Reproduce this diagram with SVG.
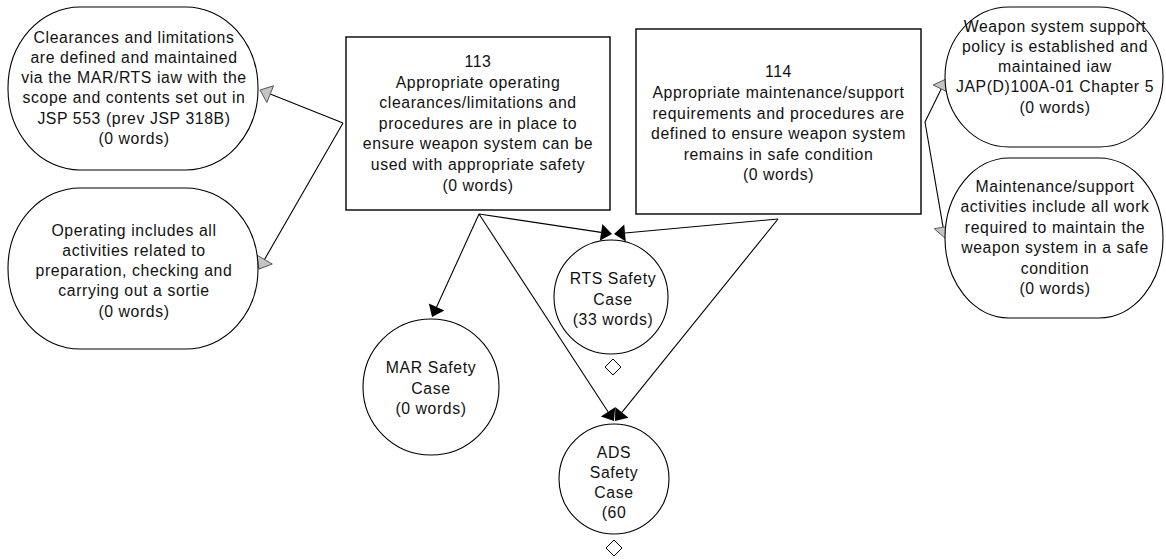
<svg xmlns="http://www.w3.org/2000/svg" width="1166" height="559" viewBox="0 0 1166 559">
  <style>
    .shape { fill: #ffffff; stroke: #000000; stroke-width: 1.1; }
    .box { fill: #ffffff; stroke: #000000; stroke-width: 1.4; }
    .label { font-family: "Liberation Sans", Arial, sans-serif; font-size: 15.8px; letter-spacing: 0.6px; fill: #111111; text-anchor: middle; }
    .link { fill: none; stroke: #000000; stroke-width: 1.1; }
    .diamond { fill: #ffffff; stroke: #000000; stroke-width: 1; }
  </style>
  <defs>
    <marker id="arrowSolid" viewBox="-1 -10 14 20" markerWidth="14" markerHeight="20" refX="0" refY="0" orient="auto" markerUnits="userSpaceOnUse">
      <path d="M11,0 L0,-8.5 L0,8.5 Z" fill="#000000"/>
    </marker>
    <marker id="arrowGrey" viewBox="-1 -10 14 20" markerWidth="14" markerHeight="20" refX="0" refY="0" orient="auto" markerUnits="userSpaceOnUse">
      <path d="M11,0 L0,-9 L0,9 Z" fill="#c4c4c4" stroke="#444444" stroke-width="0.8"/>
    </marker>
  </defs>

  <!-- connectors -->
  <g id="connectors">
    <line class="link" x1="343" y1="123" x2="270.2" y2="94.1" marker-end="url(#arrowGrey)"/>
    <line class="link" x1="343" y1="123" x2="264.5" y2="259.5" marker-end="url(#arrowGrey)"/>
    <line class="link" x1="925" y1="122" x2="941.2" y2="88.9" marker-end="url(#arrowGrey)"/>
    <line class="link" x1="925" y1="122" x2="943.1" y2="227.2" marker-end="url(#arrowGrey)"/>
    <line class="link" x1="479" y1="214" x2="436.6" y2="307" marker-end="url(#arrowSolid)"/>
    <line class="link" x1="479" y1="214" x2="601.1" y2="232.4" marker-end="url(#arrowSolid)"/>
    <line class="link" x1="778" y1="219" x2="625" y2="233" marker-end="url(#arrowSolid)"/>
    <line class="link" x1="479" y1="214" x2="608" y2="411.8" marker-end="url(#arrowSolid)"/>
    <line class="link" x1="778" y1="219" x2="621.9" y2="412.4" marker-end="url(#arrowSolid)"/>
  </g>

  <g id="n-clearances">
    <rect class="shape" x="8" y="7" width="250" height="163" rx="72" ry="81"/>
    <text class="label" x="134" y="42.5">Clearances and limitations</text>
    <text class="label" x="134" y="62.8">are defined and maintained</text>
    <text class="label" x="134" y="83.1">via the MAR/RTS iaw with the</text>
    <text class="label" x="134" y="103.4">scope and contents set out in</text>
    <text class="label" x="134" y="123.7">JSP 553 (prev JSP 318B)</text>
    <text class="label" x="134" y="144">(0 words)</text>
  </g>

  <g id="n-operating">
    <rect class="shape" x="8" y="188" width="250" height="161" rx="72" ry="80"/>
    <text class="label" x="134" y="235.5">Operating includes all</text>
    <text class="label" x="134" y="255.7">activities related to</text>
    <text class="label" x="134" y="276">preparation, checking and</text>
    <text class="label" x="134" y="296.2">carrying out a sortie</text>
    <text class="label" x="134" y="316.5">(0 words)</text>
  </g>

  <g id="n-113">
    <rect class="box" x="346" y="37" width="264" height="173"/>
    <text class="label" x="478" y="67">113</text>
    <text class="label" x="478" y="87.6">Appropriate operating</text>
    <text class="label" x="478" y="108.2">clearances/limitations and</text>
    <text class="label" x="478" y="128.8">procedures are in place to</text>
    <text class="label" x="478" y="149.4">ensure weapon system can be</text>
    <text class="label" x="478" y="170">used with appropriate safety</text>
    <text class="label" x="478" y="190.6">(0 words)</text>
  </g>

  <g id="n-114">
    <rect class="box" x="636" y="29" width="285" height="185"/>
    <text class="label" x="778.5" y="77.3">114</text>
    <text class="label" x="778.5" y="97.9">Appropriate maintenance/support</text>
    <text class="label" x="778.5" y="118.5">requirements and procedures are</text>
    <text class="label" x="778.5" y="139.1">defined to ensure weapon system</text>
    <text class="label" x="778.5" y="159.7">remains in safe condition</text>
    <text class="label" x="778.5" y="180.3">(0 words)</text>
  </g>

  <g id="n-support-policy">
    <rect class="shape" x="945" y="7" width="218" height="140" rx="64" ry="70"/>
    <text class="label" x="1055" y="31.5">Weapon system support</text>
    <text class="label" x="1055" y="51.7">policy is established and</text>
    <text class="label" x="1055" y="72">maintained iaw</text>
    <text class="label" x="1055" y="92.2">JAP(D)100A-01 Chapter 5</text>
    <text class="label" x="1055" y="112.5">(0 words)</text>
  </g>

  <g id="n-maintenance">
    <rect class="shape" x="945" y="158" width="218" height="160" rx="64" ry="80"/>
    <text class="label" x="1055" y="192">Maintenance/support</text>
    <text class="label" x="1055" y="212.4">activities include all work</text>
    <text class="label" x="1055" y="232.8">required to maintain the</text>
    <text class="label" x="1055" y="253.2">weapon system in a safe</text>
    <text class="label" x="1055" y="273.6">condition</text>
    <text class="label" x="1055" y="294">(0 words)</text>
  </g>

  <g id="n-mar">
    <circle class="shape" cx="431" cy="387" r="68"/>
    <text class="label" x="431" y="373">MAR Safety</text>
    <text class="label" x="431" y="393.5">Case</text>
    <text class="label" x="431" y="414">(0 words)</text>
  </g>

  <g id="n-rts">
    <circle class="shape" cx="611" cy="297" r="57"/>
    <text class="label" x="613" y="284">RTS Safety</text>
    <text class="label" x="613" y="304.5">Case</text>
    <text class="label" x="613" y="325">(33 words)</text>
    <polygon class="diamond" points="613,359 621,367 613,375 605,367"/>
  </g>

  <g id="n-ads">
    <circle class="shape" cx="614" cy="479" r="55"/>
    <text class="label" x="614" y="458">ADS</text>
    <text class="label" x="614" y="478">Safety</text>
    <text class="label" x="614" y="498">Case</text>
    <text class="label" x="614" y="518">(60</text>
    <polygon class="diamond" points="614,540 622,548 614,556 606,548"/>
  </g>
</svg>
